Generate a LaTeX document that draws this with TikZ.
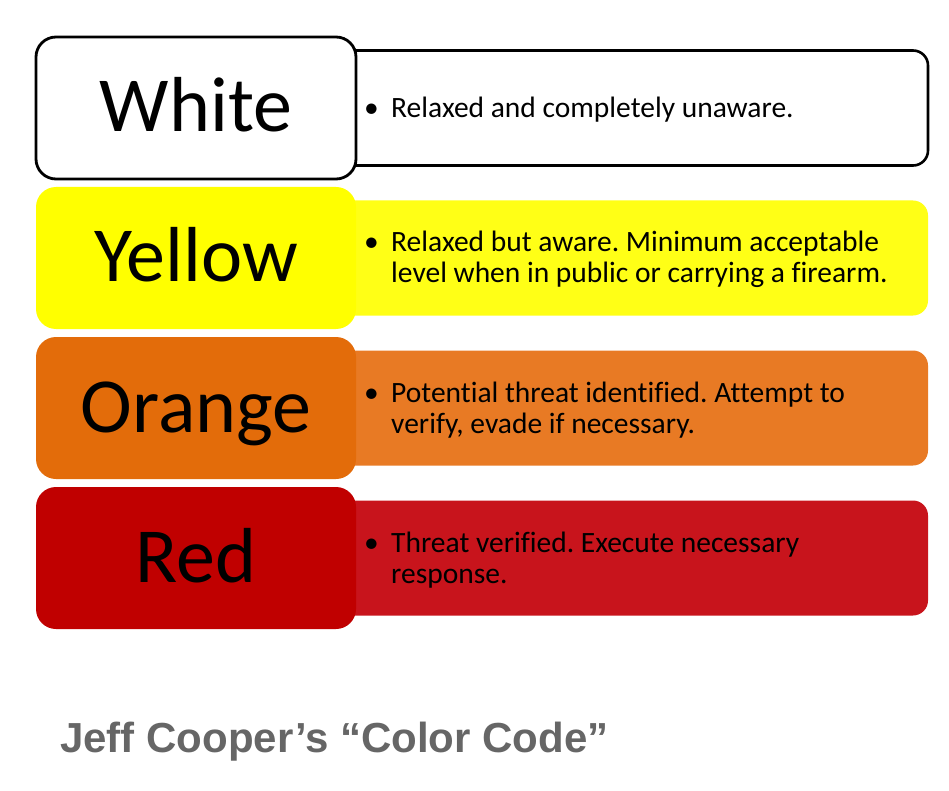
\documentclass[tikz,border=0pt]{standalone}
\usepackage{fontspec}
\setmainfont{Carlito}[Ligatures=NoCommon]
\newfontfamily\titlefont{Liberation Sans}
\definecolor{yellowA}{RGB}{255,255,0}
\definecolor{yellowB}{RGB}{255,255,22}
\definecolor{orangeA}{RGB}{227,108,10}
\definecolor{orangeB}{RGB}{232,122,36}
\definecolor{redA}{RGB}{192,0,0}
\definecolor{redB}{RGB}{200,20,28}
\definecolor{titlegray}{RGB}{102,102,102}
\frenchspacing
\begin{document}
\begin{tikzpicture}[x=1pt, y=-1pt, line join=round,
	tag/.style={rounded corners=20pt, minimum width=320pt, minimum height=142pt, inner sep=0pt,
		text height=48pt, text depth=0pt, font=\fontsize{78}{78}\selectfont},
	band/.style={rounded corners=15pt, minimum width=598pt, minimum height=115pt, inner sep=0pt},
	note/.style={anchor=base west, inner sep=0pt, font=\fontsize{29.5}{31}\selectfont}]
	\useasboundingbox (0,0) rectangle (949,791);
	% one row per level: name / left fill / right fill / border / centre / baseline / text
	\foreach \n/\ca/\cb/\ln/\y/\b/\txt in {
		White/white/white/black/108/118/{Relaxed and completely unaware.},
		Yellow/yellowA/yellowB/none/258/252/{Relaxed but aware. Minimum acceptable\\level when in public or carrying a firearm.},
		Orange/orangeA/orangeB/none/408/402/{Potential threat identified. Attempt to\\verify, evade if necessary.},
		Red/redA/redB/none/558/552/{Threat verified. Execute necessary\\response.}}
	{
		\node[band, fill=\cb, draw=\ln, line width=2.6pt] (band\n) at (629,\y) {};
		\node[tag, fill=\ca, draw=\ln, line width=2.8pt] (tag\n) at (196,\y) {\n};
		\node[note] (dot\n) at (364,\b) {\textbullet};
		\node[note] (note\n) at (391,\b) {\begin{tabular}[t]{@{}l@{}}\txt\end{tabular}};
	}
	\node[anchor=base west, inner sep=0pt, text=titlegray,
		font=\titlefont\bfseries\fontsize{42}{42}\selectfont] (title) at (60,752) {Jeff Cooper’s “Color Code”};
\end{tikzpicture}
\end{document}
